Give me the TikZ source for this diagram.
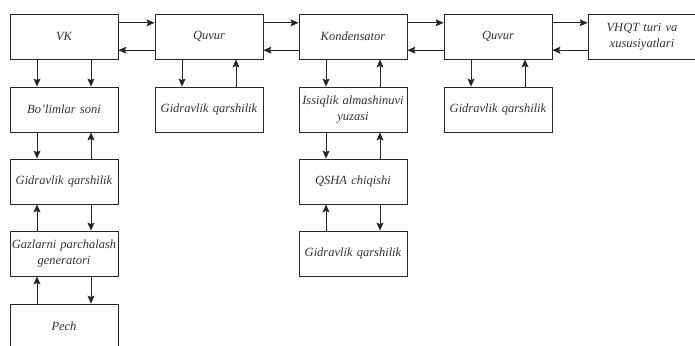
\documentclass[tikz,border=0pt]{standalone}
\usepackage{fontspec}
\setmainfont{Liberation Serif}
\usetikzlibrary{arrows.meta}
\tikzset{
  blk/.style={draw=black!85, line width=0.8pt, minimum width=108pt, minimum height=45pt,
    text width=106pt, align=center, inner sep=0pt, text=black!80,
    font=\itshape\fontsize{12.5}{16}\selectfont},
  arr/.style={-{Stealth[length=8pt,width=7pt,inset=1.5pt]}, line width=0.8pt, draw=black!85}
}
\begin{document}
\begin{tikzpicture}[x=1pt,y=-1pt]
\clip (0,0) rectangle (695,345);
\node[blk] (blk0) at (64,36.5){VK};
\node[blk] (blk1) at (209,36.5){Quvur};
\node[blk] (blk2) at (353,36.5){Kondensator};
\node[blk] (blk3) at (498,36.5){Quvur};
\node[blk] (blk4) at (642,36.5){VHQT turi va\\xususiyatlari};
\draw[arr]([yshift=13.7pt]blk0.east) -- ([yshift=13.7pt]blk1.west);
\draw[arr]([yshift=-13.7pt]blk1.west) -- ([yshift=-13.7pt]blk0.east);
\draw[arr]([yshift=13.7pt]blk1.east) -- ([yshift=13.7pt]blk2.west);
\draw[arr]([yshift=-13.7pt]blk2.west) -- ([yshift=-13.7pt]blk1.east);
\draw[arr]([yshift=13.7pt]blk2.east) -- ([yshift=13.7pt]blk3.west);
\draw[arr]([yshift=-13.7pt]blk3.west) -- ([yshift=-13.7pt]blk2.east);
\draw[arr]([yshift=13.7pt]blk3.east) -- ([yshift=13.7pt]blk4.west);
\draw[arr]([yshift=-13.7pt]blk4.west) -- ([yshift=-13.7pt]blk3.east);
% left column
\node[blk] (blk5) at (64,109.5){Bo'limlar soni};
\node[blk] (blk6) at (64,181.5){Gidravlik qarshilik};
\node[blk] (blk7) at (64,253.5){Gazlarni parchalash\\generatori};
\node[blk] (blk8) at (64,326.5){Pech};
\draw[arr]([xshift=-27pt]blk0.south) -- ([xshift=-27pt]blk5.north);
\draw[arr]([xshift=27pt]blk0.south) -- ([xshift=27pt]blk5.north);
\draw[arr]([xshift=-27pt]blk5.south) -- ([xshift=-27pt]blk6.north);
\draw[arr]([xshift=27pt]blk6.north) -- ([xshift=27pt]blk5.south);
\draw[arr]([xshift=-27pt]blk7.north) -- ([xshift=-27pt]blk6.south);
\draw[arr]([xshift=27pt]blk6.south) -- ([xshift=27pt]blk7.north);
\draw[arr]([xshift=-27pt]blk8.north) -- ([xshift=-27pt]blk7.south);
\draw[arr]([xshift=27pt]blk7.south) -- ([xshift=27pt]blk8.north);
% under the pipes and the condenser
\node[blk] (blk9) at (209,109.5){Gidravlik qarshilik};
\draw[arr]([xshift=-27pt]blk1.south) -- ([xshift=-27pt]blk9.north);
\draw[arr]([xshift=27pt]blk9.north) -- ([xshift=27pt]blk1.south);
\node[blk] (blk10) at (353,109.5){Issiqlik almashinuvi\\yuzasi};
\node[blk] (blk11) at (353,181.5){QSHA chiqishi};
\node[blk] (blk12) at (353,253.5){Gidravlik qarshilik};
\draw[arr]([xshift=-27pt]blk2.south) -- ([xshift=-27pt]blk10.north);
\draw[arr]([xshift=27pt]blk10.north) -- ([xshift=27pt]blk2.south);
\draw[arr]([xshift=-27pt]blk10.south) -- ([xshift=-27pt]blk11.north);
\draw[arr]([xshift=27pt]blk11.north) -- ([xshift=27pt]blk10.south);
\draw[arr]([xshift=-27pt]blk12.north) -- ([xshift=-27pt]blk11.south);
\draw[arr]([xshift=27pt]blk11.south) -- ([xshift=27pt]blk12.north);
\node[blk] (blk13) at (498,109.5){Gidravlik qarshilik};
\draw[arr]([xshift=-27pt]blk3.south) -- ([xshift=-27pt]blk13.north);
\draw[arr]([xshift=27pt]blk13.north) -- ([xshift=27pt]blk3.south);
\end{tikzpicture}
\end{document}
